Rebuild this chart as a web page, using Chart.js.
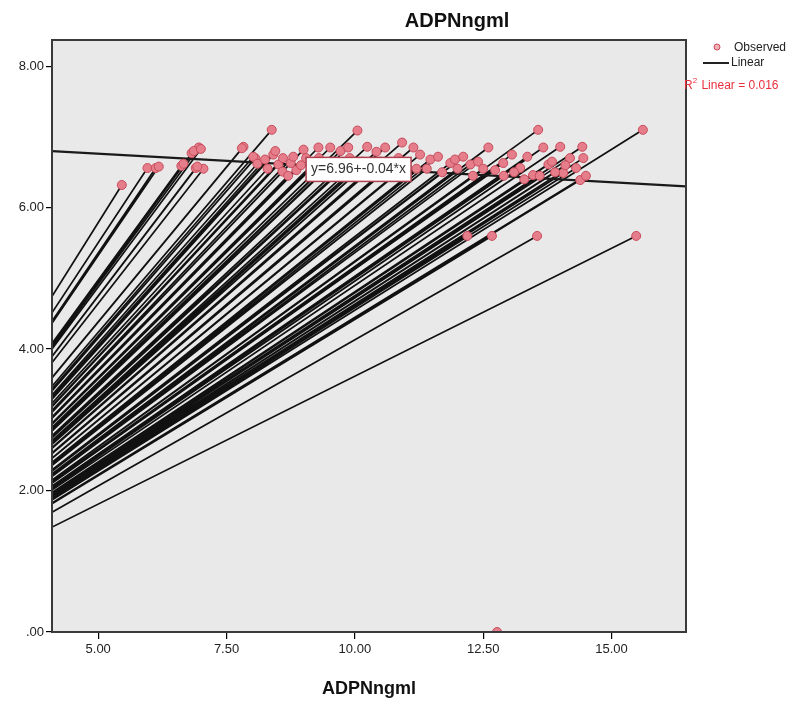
<!DOCTYPE html>
<html><head><meta charset="utf-8">
<script src="https://cdn.jsdelivr.net/npm/chart.js@4.4.1/dist/chart.umd.min.js"></script>
<style>html,body{margin:0;padding:0;background:#fff}#wrap{width:812px;height:704px}</style>
</head><body><div id="wrap"><canvas id="c" width="812" height="704"></canvas></div>
<script>
const chartTitle = 'ADPNngml';
const xAxisTitle = 'ADPNngml';
const xTickValues = [5, 7.5, 10, 12.5, 15];
const yTickValues = [0, 2, 4, 6, 8];
const obsX = [5.46, 5.96, 6.12, 6.62, 6.82, 6.96, 6.90, 7.05, 7.83, 8.06, 8.38, 8.41, 8.51, 8.59, 8.75, 8.86,
  9.00, 9.29, 9.52, 9.72, 9.87, 10.05, 10.24, 10.42, 10.59, 10.92, 11.14, 11.27, 11.47, 11.62, 11.86, 11.95,
  12.11, 12.25, 12.40, 12.60, 12.73, 12.89, 13.06, 13.22, 13.36, 13.47, 13.57, 13.67, 13.77, 13.84, 14.00,
  14.06, 14.19, 14.31, 14.39, 14.43, 14.45, 15.61, 12.19, 12.67, 13.55, 15.48, 12.77,
  6.18, 6.66, 6.86, 6.93, 7.00, 7.80, 8.02,
  8.10, 8.25, 8.30, 8.45, 8.60, 8.70, 8.80, 8.95, 9.05, 9.15, 9.30, 9.45, 9.60, 9.75, 9.90, 10.00, 10.15,
  10.30, 10.50, 10.70, 10.85, 11.00, 11.20,
  11.40, 11.70, 12.00, 12.30, 12.50, 12.90, 13.10, 13.30, 13.60, 13.90, 14.10, 14.50];
const obsY = [6.32, 6.56, 6.56, 6.59, 6.77, 6.85, 6.56, 6.55, 6.86, 6.70, 7.10, 6.75, 6.61, 6.51, 6.63, 6.53,
  6.82, 6.85, 6.85, 6.80, 6.85, 7.09, 6.86, 6.79, 6.85, 6.92, 6.85, 6.75, 6.68, 6.72, 6.63, 6.68,
  6.72, 6.61, 6.65, 6.85, 6.53, 6.63, 6.75, 6.56, 6.72, 6.46, 7.10, 6.85, 6.61, 6.65, 6.86,
  6.49, 6.70, 6.56, 6.39, 6.86, 6.70, 7.10, 5.60, 5.60, 5.60, 5.60, 0.00,
  6.58, 6.62, 6.80, 6.58, 6.83, 6.84, 6.72,
  6.62, 6.68, 6.55, 6.80, 6.70, 6.45, 6.72, 6.60, 6.70, 6.55, 6.70, 6.60, 6.65, 6.55, 6.70, 6.60, 6.65,
  6.55, 6.65, 6.60, 6.70, 6.60, 6.55,
  6.55, 6.50, 6.55, 6.45, 6.55, 6.45, 6.50, 6.40, 6.45, 6.50, 6.60, 6.45];
const fanOrigin = {x: 0, y: 0};
const fitX = [4.1, 16.45];
const fitY = [6.80, 6.30];
const legendLabels = ['Observed', 'Linear'];
const r2Label = ['R', '2', ' Linear = 0.016'];
const fitEquation = 'y=6.96+-0.04*x';

const observed = obsX.map((x, i) => ({x, y: obsY[i]}));
const fan = [];
observed.forEach(p => { fan.push(fanOrigin); fan.push(p); });
const fit = fitX.map((x, i) => ({x, y: fitY[i]}));

const FONT = '"Liberation Sans", Arial, sans-serif';

const decor = {
  id: 'decor',
  beforeDraw(chart) {
    const {ctx, chartArea: a} = chart;
    ctx.save();
    ctx.fillStyle = '#e9e9e9';
    ctx.fillRect(a.left, a.top, a.right - a.left, a.bottom - a.top);
    ctx.restore();
  },
  afterDatasetsDraw(chart) {
    const {ctx, chartArea: a, scales} = chart;
    ctx.save();
    const bx = scales.x.getPixelForValue(9.05), by = scales.y.getPixelForValue(6.71);
    ctx.font = '14px ' + FONT;
    const w = ctx.measureText(fitEquation).width + 10;
    ctx.fillStyle = '#ffffff';
    ctx.fillRect(bx, by, w, 24);
    ctx.strokeStyle = '#b04050';
    ctx.lineWidth = 1.5;
    ctx.strokeRect(bx, by, w, 24);
    ctx.fillStyle = '#333';
    ctx.textBaseline = 'middle';
    ctx.fillText(fitEquation, bx + 5, by + 12);
    ctx.strokeStyle = '#3a3a3a';
    ctx.lineWidth = 2;
    ctx.strokeRect(a.left, a.top, a.right - a.left, a.bottom - a.top);
    ctx.restore();
  },
  afterDraw(chart) {
    const {ctx} = chart;
    ctx.save();
    ctx.fillStyle = '#111';
    ctx.font = 'bold 20px ' + FONT;
    ctx.textAlign = 'center';
    ctx.textBaseline = 'middle';
    ctx.fillText(chartTitle, 457, 21);
    ctx.textAlign = 'left';
    ctx.font = '12px ' + FONT;
    ctx.beginPath();
    ctx.arc(717, 47, 3, 0, Math.PI * 2);
    ctx.fillStyle = '#f0b0b8';
    ctx.fill();
    ctx.strokeStyle = '#d04858';
    ctx.lineWidth = 1;
    ctx.stroke();
    ctx.fillStyle = '#222';
    ctx.fillText(legendLabels[0], 734, 48);
    ctx.strokeStyle = '#222';
    ctx.lineWidth = 2;
    ctx.beginPath(); ctx.moveTo(703, 63); ctx.lineTo(729, 63); ctx.stroke();
    ctx.fillText(legendLabels[1], 731, 63);
    ctx.fillStyle = '#e8303c';
    let x = 684;
    ctx.fillText(r2Label[0], x, 86); x += ctx.measureText(r2Label[0]).width;
    ctx.font = '8px ' + FONT;
    ctx.fillText(r2Label[1], x, 81); x += ctx.measureText(r2Label[1]).width + 1;
    ctx.font = '12px ' + FONT;
    ctx.fillText(r2Label[2], x, 86);
    ctx.restore();
  }
};

new Chart(document.getElementById('c'), {
  type: 'scatter',
  data: {
    datasets: [
      {type: 'scatter', data: observed, pointRadius: 4.5, pointHoverRadius: 4.5,
        backgroundColor: '#e57e8a', borderColor: '#c84c5c', borderWidth: 1, order: 0},
      {type: 'line', data: fit, borderColor: '#1a1a1a', borderWidth: 2.2, pointRadius: 0, fill: false, order: 1},
      {type: 'line', data: fan, borderColor: '#111', borderWidth: 1.7, pointRadius: 0, fill: false, order: 2, tension: 0}
    ]
  },
  options: {
    responsive: false, animation: false, devicePixelRatio: 1,
    layout: {padding: {top: 40, right: 126, left: 0, bottom: 0}},
    plugins: {legend: {display: false}, tooltip: {enabled: false}},
    scales: {
      x: {type: 'linear', min: 4.1, max: 16.45,
        afterBuildTicks: s => { s.ticks = xTickValues.map(v => ({value: v})); },
        afterFit: s => { s.height = 72; },
        ticks: {callback: v => Number(v).toFixed(2), font: {size: 13, family: FONT}, color: '#222', padding: 3, maxRotation: 0, autoSkip: false},
        grid: {drawOnChartArea: false, drawTicks: true, tickLength: 7, color: '#000', lineWidth: 1.2},
        border: {color: '#000', width: 1.5},
        title: {display: true, text: xAxisTitle, font: {size: 18, weight: 'bold', family: FONT}, color: '#111', padding: {top: 8}}
      },
      y: {type: 'linear', min: 0, max: 8.37,
        afterBuildTicks: s => { s.ticks = yTickValues.map(v => ({value: v})); },
        afterFit: s => { s.width = 52; },
        ticks: {callback: v => v === 0 ? '.00' : Number(v).toFixed(2), font: {size: 13, family: FONT}, color: '#222', padding: 2},
        grid: {drawOnChartArea: false, drawTicks: true, tickLength: 6, color: '#000', lineWidth: 1.2},
        border: {color: '#000', width: 1.5}
      }
    }
  },
  plugins: [decor]
});
</script></body></html>
